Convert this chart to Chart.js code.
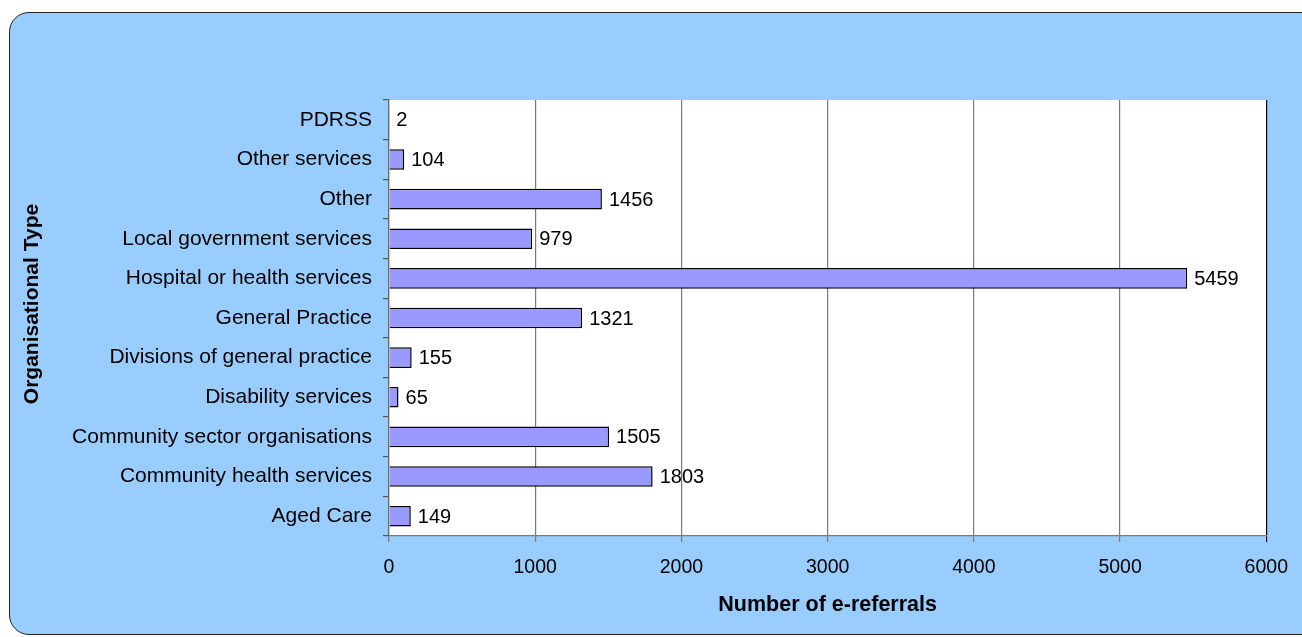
<!DOCTYPE html>
<html>
<head>
<meta charset="utf-8">
<title>E-referrals by organisational type</title>
<script src="https://cdn.jsdelivr.net/npm/chart.js@4/dist/chart.umd.min.js"></script>
<style>
  html, body { margin: 0; padding: 0; background: #fff; overflow: hidden; }
  #frame {
    position: absolute; left: 9px; top: 12px;
    width: 1310px; height: 621px;
    background: #99ccff;
    border: 1.5px solid #222;
    border-radius: 20px;
  }
  #chart { position: absolute; left: 0; top: 0; }
</style>
</head>
<body>
<div id="frame"></div>
<canvas id="chart" width="1302" height="637"></canvas>
<script>
// Organisation types, listed top to bottom
const orgTypes = [
    'PDRSS',
    'Other services',
    'Other',
    'Local government services',
    'Hospital or health services',
    'General Practice',
    'Divisions of general practice',
    'Disability services',
    'Community sector organisations',
    'Community health services',
    'Aged Care'
];
const referralCounts = [2, 104, 1456, 979, 5459, 1321, 155, 65, 1505, 1803, 149];
const xTicks = [0, 1000, 2000, 3000, 4000, 5000, 6000];

const FONT = '"Liberation Sans", Arial, sans-serif';

// white plot area behind the bars
const plotBackground = {
    id: 'plotBackground',
    beforeDraw(chart) {
        const { ctx, chartArea: a } = chart;
        ctx.save();
        ctx.fillStyle = '#ffffff';
        ctx.fillRect(a.left, a.top, a.right - a.left, a.bottom - a.top);
        ctx.restore();
    }
};

// value printed just past the end of each bar
const barValues = {
    id: 'barValues',
    afterDatasetsDraw(chart) {
        const { ctx } = chart;
        const meta = chart.getDatasetMeta(0);
        ctx.save();
        ctx.font = '20px ' + FONT;
        ctx.fillStyle = '#000';
        ctx.textAlign = 'left';
        ctx.textBaseline = 'middle';
        meta.data.forEach((bar, i) => {
            ctx.fillText(String(referralCounts[i]), bar.x + 7, bar.y + 1);
        });
        ctx.restore();
    }
};

// rotated category axis title, sitting a little above the axis centre
const yAxisTitle = {
    id: 'yAxisTitle',
    afterDraw(chart) {
        const { ctx } = chart;
        ctx.save();
        ctx.translate(32, 304);
        ctx.rotate(-Math.PI / 2);
        ctx.font = 'bold 21px ' + FONT;
        ctx.fillStyle = '#000';
        ctx.textAlign = 'center';
        ctx.textBaseline = 'middle';
        ctx.fillText('Organisational Type', 0, 0);
        ctx.restore();
    }
};

new Chart(document.getElementById('chart'), {
    type: 'bar',
    data: {
        labels: orgTypes,
        datasets: [{
            data: referralCounts,
            backgroundColor: '#9999ff',
            borderColor: '#000000',
            borderWidth: 1.5,
            barPercentage: 0.52,
            categoryPercentage: 1
        }]
    },
    options: {
        indexAxis: 'y',
        responsive: false,
        animation: false,
        layout: { padding: { top: 100, right: 33, left: 0, bottom: 0 } },
        plugins: {
            legend: { display: false },
            tooltip: { enabled: false }
        },
        scales: {
            x: {
                min: 0,
                max: 6000,
                afterFit(scale) { scale.height = 101; },
                afterBuildTicks(scale) { scale.ticks = xTicks.map(v => ({ value: v })); },
                grid: {
                    color: ctx => ctx.tick && ctx.tick.value === 6000 ? '#000' : '#7a7a7a',
                    tickColor: ctx => ctx.tick && ctx.tick.value === 6000 ? '#000' : '#7a7a7a',
                    lineWidth: 1.2,
                    tickLength: 6
                },
                border: { color: '#7a7a7a', width: 1.2 },
                ticks: {
                    color: '#000',
                    padding: 14,
                    font: { family: FONT, size: 19.5 },
                    callback: v => String(v)
                },
                title: {
                    display: true,
                    text: 'Number of e-referrals',
                    color: '#000',
                    font: { family: FONT, size: 21.5, weight: 'bold' },
                    padding: { top: 0, bottom: 19 }
                }
            },
            y: {
                afterFit(scale) { scale.width = 389; },
                grid: {
                    offset: true,
                    drawOnChartArea: false,
                    color: '#555',
                    tickLength: 6,
                    lineWidth: 1.2
                },
                border: { color: '#666', width: 1.2 },
                ticks: {
                    color: '#000',
                    padding: 11,
                    autoSkip: false,
                    font: { family: FONT, size: 21 }
                }
            }
        }
    },
    plugins: [plotBackground, barValues, yAxisTitle]
});
</script>
</body>
</html>
